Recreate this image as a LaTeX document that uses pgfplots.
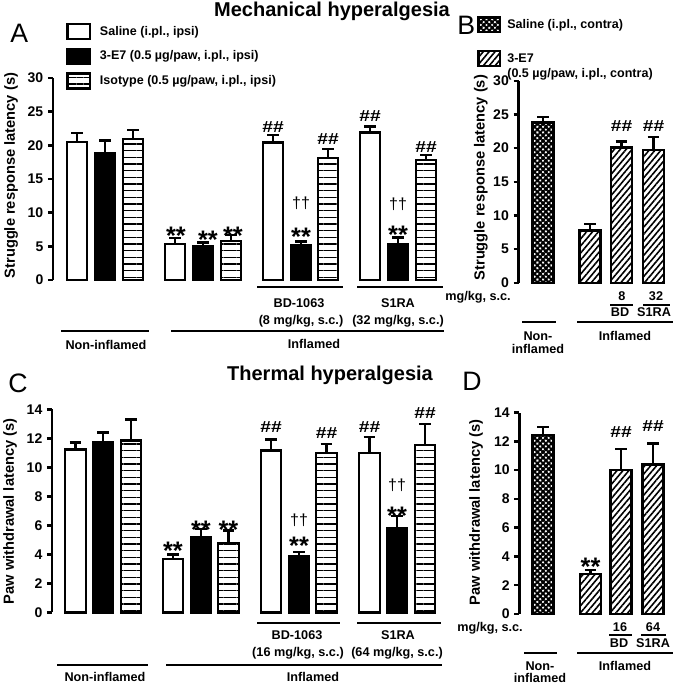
\documentclass[border=0pt]{standalone}
\usepackage{fontspec}
\setmainfont{Liberation Sans}
\usepackage{pgfplots}
\pgfplotsset{compat=1.18}
\usetikzlibrary{patterns.meta}

% 1 unit = 1 px of the reference (0.75pt)
\tikzset{
  lab/.style={anchor=base, inner sep=0pt, font=\bfseries\fontsize{9.5}{11}\selectfont},
  brk/.style={line width=1.8pt},
  ast/.style={anchor=base, inner sep=0pt, font=\bfseries\fontsize{19}{19}\selectfont},
  hsh/.style={anchor=base, inner sep=0pt, font=\fontsize{12}{12}\selectfont},
  letter/.style={anchor=base west, inner sep=0pt, font=\fontsize{20}{20}\selectfont},
  ttl/.style={anchor=base, inner sep=0pt, font=\bfseries\fontsize{15}{15}\selectfont},
}
\newcommand\hh{\scalebox{1.2}[1]{\bfseries\#\#}}
\pgfplotsset{
  panel/.style={
    scale only axis, clip=false, enlargelimits=false,
    axis x line=none, axis y line=left,
    y axis line style={-, line width=1.8pt},
    xtick=\empty,
    tick align=outside, major tick length=3.75pt,
    ytick style={line width=1.8pt, black},
    yticklabel style={font=\bfseries\fontsize{10.5}{12}\selectfont},
    /pgf/number format/assume math mode=true,
    ylabel style={font=\bfseries\fontsize{11}{13}\selectfont, anchor=center},
    error bars/y dir=plus, error bars/y explicit,
    error bars/error bar style={line width=1.8pt, black},
    error bars/error mark options={rotate=90, mark size=4.4pt, line width=1.8pt, black},
    legend cell align=left,
  },
  bars/.style={ybar, bar width=#1, bar shift=0pt, draw=black, line width=1.8pt},
  iso/.style={pattern={Lines[angle=0, distance=5pt, line width=1.1pt]}},
  cross/.style={pattern={Hatch[angle=45, distance=3pt, line width=1.5pt]}},
  diag/.style={pattern={Lines[angle=50, distance=3.4pt, line width=1.2pt]}},
  boxA/.style={legend image code/.code={\draw[##1,/tikz/line width=1.8pt] (0pt,-5.6pt) rectangle (17pt,5.6pt);}},
  boxB/.style={legend image code/.code={\draw[##1,/tikz/line width=1.8pt] (0pt,-5.5pt) rectangle (16.2pt,5.5pt);}},
  boxBup/.style={legend image code/.code={\draw[##1,/tikz/line width=1.8pt] (0pt,0.35pt) rectangle (16.2pt,11.35pt);}},
}

\begin{document}
\begin{tikzpicture}[x=0.75pt, y=0.75pt]
\path[use as bounding box] (0,0) rectangle (677,-684);

% ---------------- A ----------------
\begin{axis}[panel, boxA,
  at={(39.75pt,-210pt)}, anchor=south west,
  width=294pt, height=151.5pt,
  xmin=53, xmax=445, ymin=0, ymax=30, ytick={0,5,...,30},
  ylabel={Struggle response latency (s)},
  ylabel style={at={(axis description cs:-0.107,0.517)}},
  legend style={draw=none, fill=none, inner sep=0pt, outer sep=0pt,
    at={(axis description cs:0.0337,1.2728)}, anchor=north west,
    row sep=5.6pt, column sep=6.5pt,
    font=\bfseries\fontsize{9.4}{11.25}\selectfont, nodes={inner sep=0pt}},
]
\addplot[bars=20.5, fill=white] coordinates {
  (77,20.5) +- (0,1.3) (175,5.35) +- (0,0.85) (273,20.4) +- (0,1.1) (370,21.9) +- (0,0.9)};
\addlegendentry{Saline (i.pl., ipsi)}
\addplot[bars=20.5, fill=black] coordinates {
  (105,18.9) +- (0,1.8) (203,4.95) +- (0,0.6) (301,5.2) +- (0,0.5) (398,5.3) +- (0,1.0)};
\addlegendentry{3-E7 (0.5 µg/paw, i.pl., ipsi)}
\addplot[bars=20.5, iso] coordinates {
  (133,20.9) +- (0,1.4) (231,5.8) +- (0,0.9) (328,18.1) +- (0,1.4) (426,17.8) +- (0,0.8)};
\addlegendentry{Isotype (0.5 µg/paw, i.pl., ipsi)}
\node[ast] at (axis cs:176,5.24) {**};
\node[ast] at (axis cs:208,4.65) {**};
\node[ast] at (axis cs:233,5.24) {**};
\node[ast] at (axis cs:301,5.09) {**};
\node[hsh] at (axis cs:301,10.69) {††};
\node[ast] at (axis cs:398,5.39) {**};
\node[hsh] at (axis cs:398,10.40) {††};
\node[hsh] at (axis cs:273,21.98) {\hh};
\node[hsh] at (axis cs:328,20.05) {\hh};
\node[hsh] at (axis cs:370,23.6) {\hh};
\node[hsh] at (axis cs:426,19.0) {\hh};
\end{axis}

% ---------------- B ----------------
\begin{axis}[panel, boxB,
  at={(388.875pt,-212.025pt)}, anchor=south west,
  width=117.4pt, height=151.5pt,
  xmin=518.5, xmax=675, ymin=0, ymax=30, ytick={0,5,...,30},
  ylabel={Struggle response latency (s)},
  ylabel style={at={(axis description cs:-0.24,0.52)}},
  legend style={draw=none, fill=none, inner sep=0pt, outer sep=0pt,
    at={(axis description cs:-0.2639,1.3193)}, anchor=north west,
    row sep=12.6pt, column sep=4.6pt,
    font=\bfseries\fontsize{9.4}{11.25}\selectfont, nodes={inner sep=0pt, align=left}},
]
\addplot[bars=21, cross] coordinates {(543,23.8) +- (0,0.8)};
\addlegendentry{Saline (i.pl., contra)}
\addplot[bars=21, diag, boxBup]
  coordinates {(590,7.73) +- (0,1.0) (621.5,20.1) +- (0,0.85) (653.5,19.7) +- (0,1.9)};
\addlegendentry{3-E7\\(0.5 µg/paw, i.pl., contra)}
\node[hsh] at (axis cs:621.5,22.5) {\hh};
\node[hsh] at (axis cs:653.5,22.5) {\hh};
\end{axis}

% ---------------- C ----------------
\begin{axis}[panel,
  at={(39pt,-459.225pt)}, anchor=south west,
  width=294pt, height=152.25pt,
  xmin=52, xmax=444, ymin=0, ymax=14, ytick={0,2,...,14},
  ylabel={Paw withdrawal latency (s)},
  ylabel style={at={(axis description cs:-0.107,0.497)}},
]
\addplot[bars=20.5, fill=white] coordinates {
  (75.5,11.24) +- (0,0.46) (173,3.68) +- (0,0.32) (271,11.15) +- (0,0.78) (369.5,11.0) +- (0,1.07)};
\addplot[bars=20.5, fill=black] coordinates {
  (103,11.7) +- (0,0.7) (201,5.17) +- (0,0.58) (299,3.84) +- (0,0.32) (397,5.79) +- (0,0.85)};
\addplot[bars=20.5, iso] coordinates {
  (131,11.86) +- (0,1.44) (228.5,4.76) +- (0,0.87) (326.5,11.0) +- (0,0.6) (425,11.54) +- (0,1.46)};
\node[ast] at (axis cs:173,3.63) {**};
\node[ast] at (axis cs:201,5.08) {**};
\node[ast] at (axis cs:228.5,5.08) {**};
\node[ast] at (axis cs:299,3.97) {**};
\node[hsh] at (axis cs:299,6.02) {††};
\node[ast] at (axis cs:397,6.04) {**};
\node[hsh] at (axis cs:397,8.43) {††};
\node[hsh] at (axis cs:271,12.43) {\hh};
\node[hsh] at (axis cs:326.5,12.02) {\hh};
\node[hsh] at (axis cs:369.5,12.43) {\hh};
\node[hsh] at (axis cs:425,13.4) {\hh};
\end{axis}

% ---------------- D ----------------
\begin{axis}[panel,
  at={(389.475pt,-460.5pt)}, anchor=south west,
  width=116.8pt, height=151.1pt,
  xmin=519.3, xmax=675, ymin=0, ymax=14, ytick={0,2,...,14},
  ylabel={Paw withdrawal latency (s)},
  ylabel style={at={(axis description cs:-0.278,0.504)}},
]
\addplot[bars=21, cross] coordinates {(543,12.44) +- (0,0.56)};
\addplot[bars=21, diag] coordinates {
  (590.5,2.78) +- (0,0.28) (621,10.0) +- (0,1.45) (653,10.4) +- (0,1.46)};
\node[ast] at (axis cs:590.5,2.66) {**};
\node[hsh] at (axis cs:621,12.3) {\hh};
\node[hsh] at (axis cs:653,12.65) {\hh};
\end{axis}

% ---------------- titles and panel letters ----------------
\node[ttl] at (332,-17) {Mechanical hyperalgesia};
\node[ttl] at (330,-380) {Thermal hyperalgesia};
\node[letter] at (10,-43) {A};
\node[letter] at (457,-35) {B};
\node[letter] at (8,-392) {C};
\node[letter] at (462,-390) {D};

% ---------------- group brackets A ----------------
\draw[brk] (257,-287) -- (343,-287);
\draw[brk] (357,-287) -- (443,-287);
\draw[brk] (61,-331) -- (149,-331);
\draw[brk] (171,-331) -- (444,-331);
\node[lab] at (299,-307) {BD-1063};
\node[lab] at (301,-324) {(8 mg/kg, s.c.)};
\node[lab] at (398,-307) {S1RA};
\node[lab] at (398,-324) {(32 mg/kg, s.c.)};
\node[lab] at (106,-349) {Non-inflamed};
\node[lab] at (314,-348) {Inflamed};

% ---------------- group brackets B ----------------
\node[lab] at (478,-300) {mg/kg, s.c.};
\node[lab] at (622,-300) {8};
\node[lab] at (656,-300) {32};
\draw[brk] (610,-305) -- (633,-305);
\draw[brk] (643,-305) -- (670,-305);
\node[lab] at (620,-316) {BD};
\node[lab] at (654,-316) {S1RA};
\draw[brk] (522,-322) -- (556,-322);
\draw[brk] (577,-322) -- (673,-322);
\node[lab] at (538,-340) {Non-};
\node[lab] at (538,-353) {inflamed};
\node[lab] at (625,-340) {Inflamed};

% ---------------- group brackets C ----------------
\draw[brk] (257,-623) -- (340,-623);
\draw[brk] (357,-623) -- (441,-623);
\draw[brk] (57,-665) -- (148,-665);
\draw[brk] (166,-665) -- (442,-665);
\node[lab] at (297,-639) {BD-1063};
\node[lab] at (298,-656) {(16 mg/kg, s.c.)};
\node[lab] at (398,-639) {S1RA};
\node[lab] at (397,-656) {(64 mg/kg, s.c.)};
\node[lab] at (105,-681.5) {Non-inflamed};
\node[lab] at (313,-681.5) {Inflamed};

% ---------------- group brackets D ----------------
\node[lab] at (490,-631) {mg/kg, s.c.};
\node[lab] at (620,-631) {16};
\node[lab] at (653,-631) {64};
\draw[brk] (609,-635) -- (632,-635);
\draw[brk] (641,-635) -- (666,-635);
\node[lab] at (619,-647) {BD};
\node[lab] at (653,-647) {S1RA};
\draw[brk] (524,-653) -- (557,-653);
\draw[brk] (577,-653) -- (673,-653);
\node[lab] at (540,-670) {Non-};
\node[lab] at (540,-682) {inflamed};
\node[lab] at (625,-670) {Inflamed};
\end{tikzpicture}
\end{document}
